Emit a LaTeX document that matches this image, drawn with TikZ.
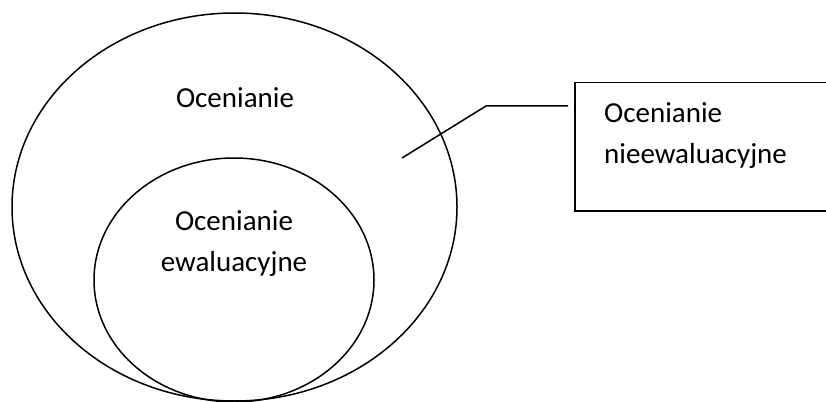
\documentclass[tikz,border=0pt]{standalone}
\usepackage{fontspec}
\setmainfont{Carlito}
\begin{document}
\begin{tikzpicture}[x=1pt,y=-1pt,
  line/.style={draw=black,line width=1.5pt},
  lbl/.style={font=\fontsize{29}{41}\selectfont,inner sep=0pt}]
\useasboundingbox (0,0) rectangle (826,401);
\clip (0,0) rectangle (826,401);
% ellipses
\draw[line] (234.5,207) ellipse [x radius=222.5, y radius=194];
\draw[line] (234,280) ellipse [x radius=140, y radius=122];
% texts
\node[lbl,anchor=base] (outer) at (235,107) {Ocenianie};
\node[lbl,anchor=base,align=center] (inner) at (234,271) {Ocenianie\\ewaluacyjne};
% box
\node[line,lbl,anchor=north west,minimum width=270pt,minimum height=128pt] (box) at (574,82) {};
\node[lbl,anchor=base west,align=left] (boxtext) at (604,163) {Ocenianie\\nieewaluacyjne};
% leader
\coordinate (p1) at (402,158);
\coordinate (p2) at (486,106);
\coordinate (p3) at (568,106);
\draw[line] (p1) -- (p2) -- (p3);
\end{tikzpicture}
\end{document}
